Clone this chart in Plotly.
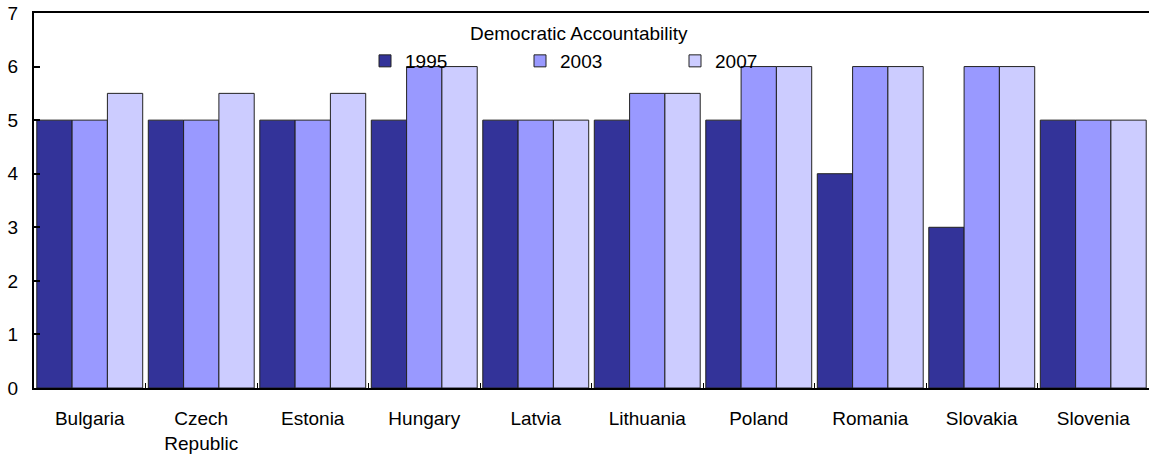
import plotly.graph_objects as go

countries = ["Bulgaria", "Czech<br>Republic", "Estonia", "Hungary", "Latvia",
             "Lithuania", "Poland", "Romania", "Slovakia", "Slovenia"]
v1995 = [5, 5, 5, 5, 5, 5, 5, 4, 3, 5]
v2003 = [5, 5, 5, 6, 5, 5.5, 6, 6, 6, 5]
v2007 = [5.5, 5.5, 5.5, 6, 5, 5.5, 6, 6, 6, 5]
series = [("1995", v1995, "#333399"), ("2003", v2003, "#9999FF"), ("2007", v2007, "#CCCCFF")]
legend_title = "Democratic Accountability"

FONT = "Liberation Sans, Arial, sans-serif"
FS = 19
PW = 1151 - 36   # plot width in px
PH = 456 - 13 - 68

fig = go.Figure()
for name, vals, col in series:
    fig.add_trace(go.Bar(x=countries, y=vals, name=name,
                         marker=dict(color=col, line=dict(color="#222222", width=1))))

fig.update_layout(
    width=1151, height=456,
    margin=dict(l=34, r=2, t=13, b=68),
    paper_bgcolor="white", plot_bgcolor="white",
    barmode="group", bargap=0.05, bargroupgap=0,
    font=dict(family=FONT, size=FS, color="black"),
    legend=dict(
        orientation="h", xref="paper", yref="paper", yanchor="middle",
        x=(365 - 34) / PW, y=(388 - 61) / PH,
        bgcolor="rgba(0,0,0,0)", entrywidth=110, entrywidthmode="pixels",
        font=dict(size=FS), itemwidth=30,
    ),
    showlegend=True,
    annotations=[dict(text=legend_title, xref="paper", yref="paper",
                      x=(579 - 34) / PW, y=(388 - 33) / PH,
                      xanchor="center", yanchor="middle", showarrow=False,
                      font=dict(size=FS, family=FONT, color="black"))],
)

fig.update_xaxes(showline=True, linecolor="black", linewidth=2, mirror=True,
                 ticks="inside", ticklen=5, tickcolor="black", tickwidth=1,
                 tickson="boundaries", showgrid=False, ticklabelstandoff=12,
                 tickfont=dict(size=FS, family=FONT))
fig.update_yaxes(range=[0, 7], dtick=1, showline=True, linecolor="black", linewidth=2,
                 ticks="inside", ticklen=6, tickcolor="black", tickwidth=2,
                 showgrid=False, zeroline=False, ticklabelstandoff=10,
                 tickfont=dict(size=FS, family=FONT))

fig.write_html("out.html")
